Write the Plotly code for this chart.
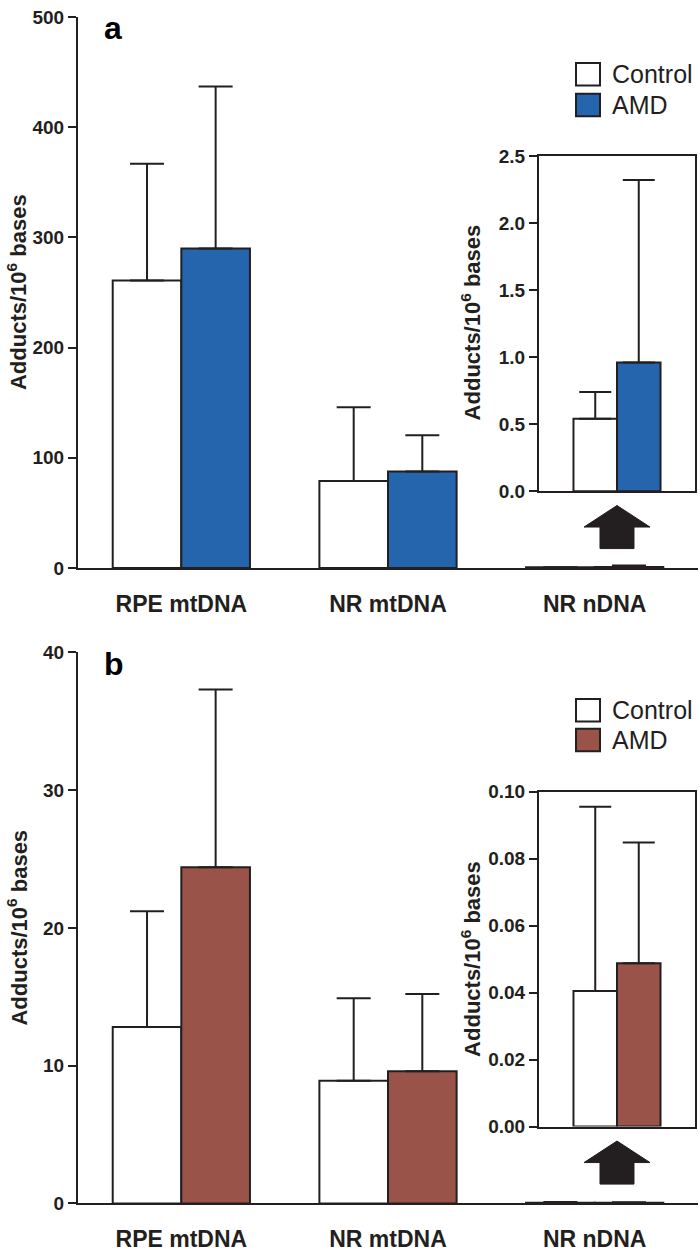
import plotly.graph_objects as go

W, H = 700, 1252

# ---- data -------------------------------------------------------------
categories = ['RPE mtDNA', 'NR mtDNA', 'NR nDNA']

# panel a
a_control = [261, 79, 0.54]
a_control_err = [106, 67, 0.20]
a_amd = [290, 87.5, 0.96]
a_amd_err = [147, 33, 1.36]

# panel b
b_control = [12.8, 8.9, 0.0405]
b_control_err = [8.4, 6.0, 0.055]
b_amd = [24.4, 9.6, 0.0488]
b_amd_err = [12.9, 5.6, 0.036]

a_ticks = [0, 100, 200, 300, 400, 500]
a_inset_ticks = [0.0, 0.5, 1.0, 1.5, 2.0, 2.5]
b_ticks = [0, 10, 20, 30, 40]
b_inset_ticks = [0.00, 0.02, 0.04, 0.06, 0.08, 0.10]

INK = '#231f20'
BLUE = '#2565ae'
BROWN = '#9a5349'
FONT = 'Liberation Sans, Arial, sans-serif'
YTITLE = 'Adducts/10<sup>6</sup> bases'


def px(x):
    return x / W


def py(y):
    return 1 - y / H


fig = go.Figure()


def add_bars(xref, yref, x, ctrl, ctrl_err, amd, amd_err, color, width, cap):
    for vals, err, fill, off in [(ctrl, ctrl_err, 'white', -width),
                                 (amd, amd_err, color, 0)]:
        fig.add_trace(go.Bar(
            x=x, y=vals, xaxis=xref, yaxis=yref,
            width=width, offset=off,
            marker=dict(color=fill, line=dict(color=INK, width=2)),
            error_y=dict(type='data', array=err, arrayminus=[0] * len(err),
                         symmetric=False, thickness=2, width=cap, color=INK),
            showlegend=False, hoverinfo='skip',
        ))


add_bars('x', 'y', [0, 1, 2], a_control, a_control_err, a_amd, a_amd_err, BLUE, 0.332, 17)
add_bars('x2', 'y2', [0], a_control[2:], a_control_err[2:], a_amd[2:], a_amd_err[2:], BLUE, 0.279, 16)
add_bars('x3', 'y3', [0, 1, 2], b_control, b_control_err, b_amd, b_amd_err, BROWN, 0.332, 17)
add_bars('x4', 'y4', [0], b_control[2:], b_control_err[2:], b_amd[2:], b_amd_err[2:], BROWN, 0.279, 16)

tickfont = dict(family=FONT, size=19, color=INK, weight='bold')


def main_axes(ytop, ybot, yrange, ticks):
    xa = dict(domain=[px(78), px(698)], range=[-0.5, 2.5],
              tickvals=[0, 1, 2], ticktext=categories, ticks='',
              showline=True, linecolor=INK, linewidth=2, showgrid=False,
              zeroline=False, ticklabelstandoff=14,
              tickfont=dict(family=FONT, size=23, color=INK, weight='bold'))
    ya = dict(domain=[py(ybot), py(ytop)], range=yrange, tickvals=ticks,
              ticks='outside', ticklen=8, tickwidth=2, tickcolor=INK,
              showline=True, linecolor=INK, linewidth=2, showgrid=False,
              zeroline=False, tickfont=tickfont, ticklabeloverflow='allow')
    return xa, ya


def inset_axes(ytop, ybot, yrange, ticks, fmt):
    xa = dict(domain=[px(539), px(695)], range=[-0.5, 0.5],
              showticklabels=False, ticks='', showline=True, mirror=True,
              linecolor=INK, linewidth=2, showgrid=False, zeroline=False)
    ya = dict(domain=[py(ybot), py(ytop)], range=yrange, tickvals=ticks,
              tickformat=fmt, ticks='outside', ticklen=8, tickwidth=2,
              tickcolor=INK, showline=True, mirror=True, linecolor=INK,
              linewidth=2, showgrid=False, zeroline=False, tickfont=tickfont)
    return xa, ya


x1, y1 = main_axes(7.3, 569.8, [0, 500], a_ticks)
x2, y2 = inset_axes(149, 491.5, [0, 2.5], a_inset_ticks, '.1f')
x3, y3 = main_axes(656, 1218.7, [0, 40], b_ticks)
x4, y4 = inset_axes(798.3, 1140.3, [0, 0.10], b_inset_ticks, '.2f')
x2['anchor'] = 'y2'
y2['anchor'] = 'x2'
x3['anchor'] = 'y3'
y3['anchor'] = 'x3'
x4['anchor'] = 'y4'
y4['anchor'] = 'x4'

annotations = []
shapes = []


def ytitle(xc, yc):
    annotations.append(dict(text=YTITLE, x=px(xc), y=py(yc), xref='paper', yref='paper',
                            textangle=-90, showarrow=False, xanchor='center', yanchor='middle',
                            font=dict(family=FONT, size=22, color=INK, weight='bold')))


ytitle(17, 288)
ytitle(471, 319)
ytitle(17, 937)
ytitle(471, 969)

for letter, ybottom in [('a', 39), ('b', 688)]:
    annotations.append(dict(text=letter, x=px(102), y=py(ybottom), xref='paper', yref='paper',
                            showarrow=False, xanchor='left', yanchor='bottom',
                            font=dict(family=FONT, size=32, color='black', weight='bold')))


def legend(y_ctrl, y_amd, color):
    for yc, fill, name in [(y_ctrl, 'white', 'Control'), (y_amd, color, 'AMD')]:
        shapes.append(dict(type='rect', xref='paper', yref='paper',
                           x0=px(576), x1=px(600), y0=py(yc + 11.5), y1=py(yc - 11.5),
                           fillcolor=fill, line=dict(color=INK, width=2)))
        annotations.append(dict(text=name, x=px(610), y=py(yc), xref='paper', yref='paper',
                                showarrow=False, xanchor='left', yanchor='middle',
                                font=dict(family=FONT, size=25, color=INK)))


legend(65.5, 97, BLUE)
legend(715, 745.5, BROWN)


def arrow(tip, base, bottom):
    pts = [(617, tip), (650, base), (634, base), (634, bottom),
           (600, bottom), (600, base), (584, base)]
    path = 'M ' + ' L '.join(f'{px(a):.5f},{py(b):.5f}' for a, b in pts) + ' Z'
    shapes.append(dict(type='path', xref='paper', yref='paper', path=path,
                       fillcolor=INK, line=dict(color=INK, width=1)))


arrow(506, 528, 550)
arrow(1155, 1177, 1199)

fig.update_layout(
    width=W, height=H,
    margin=dict(l=0, r=0, t=0, b=0),
    paper_bgcolor='white', plot_bgcolor='rgba(0,0,0,0)',
    barmode='overlay',
    xaxis=x1, yaxis=y1, xaxis2=x2, yaxis2=y2,
    xaxis3=x3, yaxis3=y3, xaxis4=x4, yaxis4=y4,
    annotations=annotations, shapes=shapes,
    showlegend=False,
    font=dict(family=FONT, color=INK),
)

# drop the browser's default 8px body margin so the figure sits at the page corner
fig.write_html('out.html', config={'displayModeBar': False},
               post_script="document.body.style.margin='0';")
